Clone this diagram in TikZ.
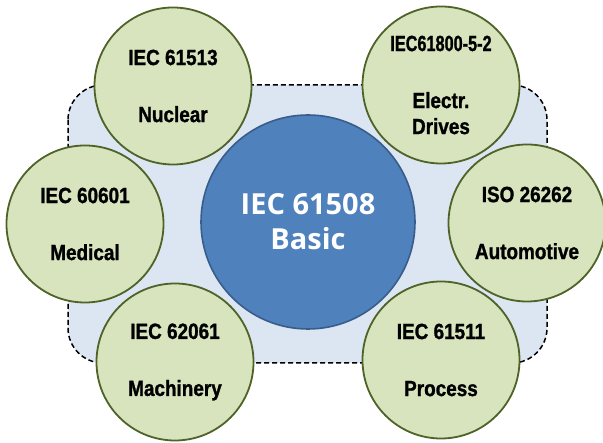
\documentclass[tikz,border=0pt]{standalone}
\usepackage{fontspec}
\setmainfont{Liberation Sans}
\newfontfamily\normfont[FakeStretch=0.86, BoldFeatures={FakeBold=1.2}]{Liberation Sans}
\newfontfamily\basefont{Open Sans}

\definecolor{frameblue}{HTML}{DCE6F2}
\definecolor{normfill}{HTML}{D7E4BD}
\definecolor{normedge}{HTML}{4F6228}
\definecolor{basefill}{HTML}{4F81BD}
\definecolor{baseedge}{HTML}{385D8A}

\tikzset{
  norm/.style={circle, draw=normedge, fill=normfill, line width=1.8pt, inner sep=0pt,
    minimum size=157pt, align=center, font=\normfont\bfseries\fontsize{22}{26}\selectfont},
  base/.style={circle, draw=baseedge, fill=basefill, line width=1.6pt, inner sep=0pt,
    minimum size=214pt, align=center, text=white, font=\basefont\bfseries\fontsize{29}{35}\selectfont},
  frame/.style={fill=frameblue, draw=black, line width=1.5pt, dash pattern=on 5pt off 3pt, rounded corners=35pt}
}

\begin{document}
\begin{tikzpicture}[x=1pt, y=-1pt]
  \useasboundingbox (0,0) rectangle (603,443);

  % dashed frame behind the circles
  \draw[frame] (68,85) rectangle (547,363);

  % base standard in the middle
  \node[base] (basic) at (308,222) {IEC 61508\\Basic};

  % sector standards around it
  \node[norm] (nuclear) at (173,86) {IEC 61513\\[31pt]Nuclear};
  \node[norm] (drives) at (441,85) {\scalebox{0.86}[1]{IEC61800-5-2}\\[31pt]Electr.\\Drives};
  \node[norm] (medical) at (85,224) {IEC 60601\\[31pt]Medical};
  \node[norm] (automotive) at (527,223) {ISO 26262\\[31pt]Automotive};
  \node[norm] (machinery) at (175,362) {IEC 62061\\[31pt]Machinery};
  \node[norm] (process) at (441,360) {IEC 61511\\[31pt]Process};
\end{tikzpicture}
\end{document}
